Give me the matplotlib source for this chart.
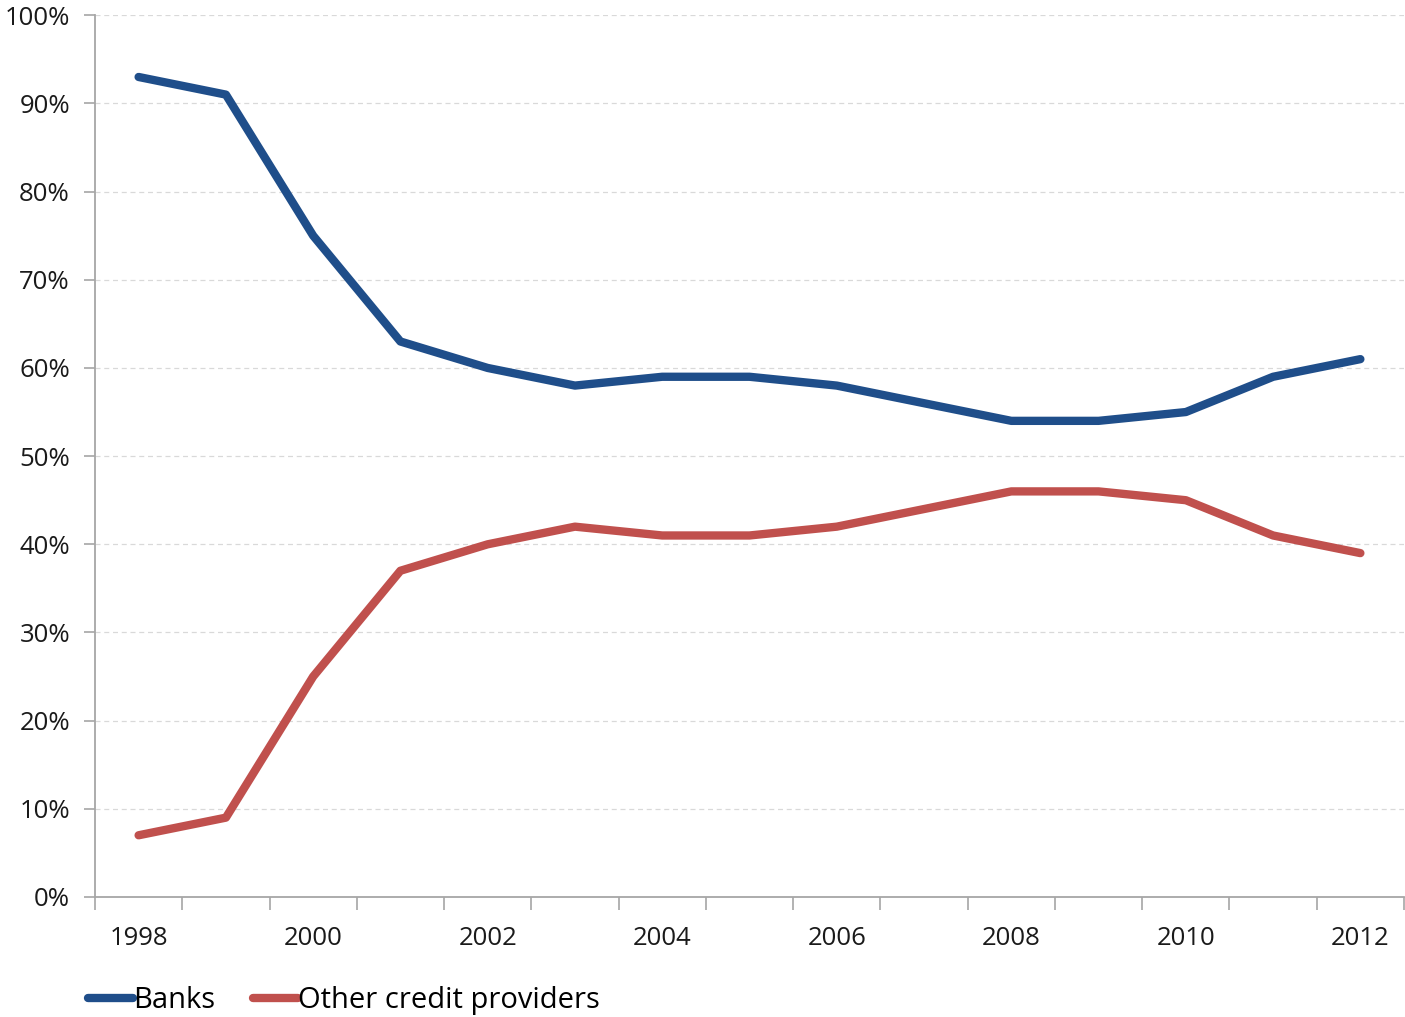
import numpy as np
import matplotlib
matplotlib.use("Agg")
import matplotlib.pyplot as plt
from matplotlib.ticker import FixedLocator, FuncFormatter

plt.rcParams['font.family'] = ['Open Sans', 'DejaVu Sans']

years = list(range(1998, 2013))
banks = [93, 91, 75, 63, 60, 58, 59, 59, 58, 56, 54, 54, 55, 59, 61]
other = [7, 9, 25, 37, 40, 42, 41, 41, 42, 44, 46, 46, 45, 41, 39]

fig = plt.figure(figsize=(14.05, 10.17), dpi=100)
ax = fig.add_axes([0.0676, 0.118, 0.9317, 0.867])

x = np.arange(len(years))
ax.plot(x, banks, color='#1F4E8A', linewidth=6, solid_capstyle='round',
        solid_joinstyle='round', label='Banks')
ax.plot(x, other, color='#C0504D', linewidth=6, solid_capstyle='round',
        solid_joinstyle='round', label='Other credit providers')

ax.set_xlim(-0.5, len(years) - 0.5)
ax.set_ylim(0, 100)

# y axis
ax.set_yticks(range(0, 101, 10))
ax.yaxis.set_major_formatter(FuncFormatter(lambda v, p: f'{int(v)}%'))
ax.grid(axis='y', color='#D9D9D9', linestyle=(0, (4, 3)), linewidth=0.9)
ax.set_axisbelow(True)

# x axis: labels every other year, tick marks between categories
ax.set_xticks(x[::2])
ax.set_xticklabels([str(y) for y in years[::2]])
ax.xaxis.set_minor_locator(FixedLocator(np.arange(-0.5, len(years), 1)))
ax.tick_params(axis='x', which='major', length=0, pad=21)
ax.tick_params(axis='x', which='minor', length=9, width=1.2, color='#A6A6A6', direction='out')
ax.tick_params(axis='y', length=8, width=1.2, color='#A6A6A6', pad=10)
ax.tick_params(labelsize=18.5, labelcolor='#1a1a1a')

for side in ['top', 'right']:
    ax.spines[side].set_visible(False)
for side in ['left', 'bottom']:
    ax.spines[side].set_color('#A6A6A6')
    ax.spines[side].set_linewidth(1.3)

fig.legend(loc='lower left', bbox_to_anchor=(0.0625, 0.002), ncol=2, frameon=False,
           fontsize=21, handlelength=1.55, handletextpad=0.0, columnspacing=1.3,
           borderpad=0, borderaxespad=0)

fig.savefig('out.png', dpi=100)
